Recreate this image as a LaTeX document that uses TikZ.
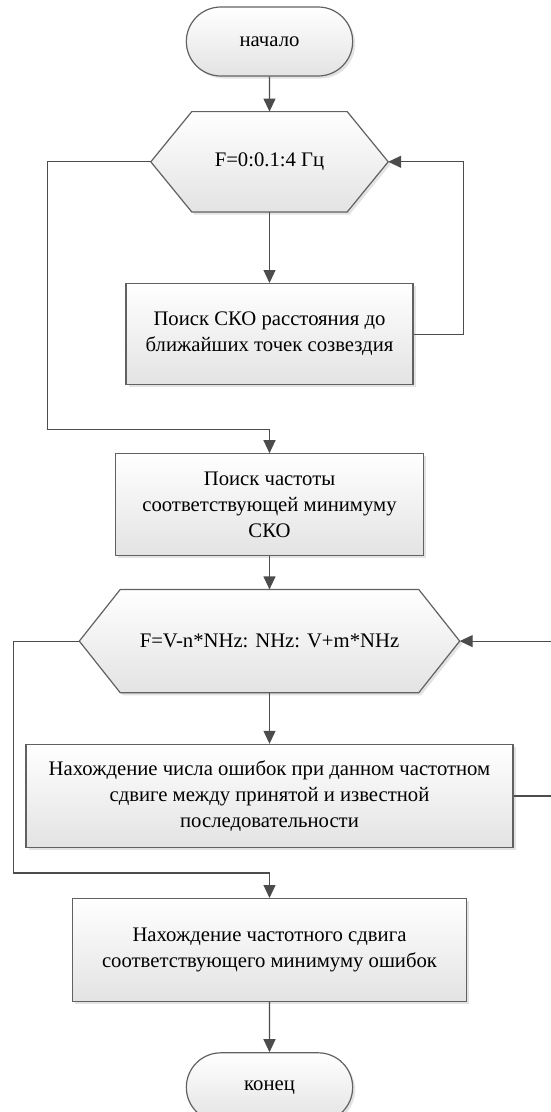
\documentclass[tikz,border=0pt]{standalone}
\usepackage{fontspec}
\setmainfont{Liberation Serif}
\usetikzlibrary{positioning,shapes.misc,shadows,arrows.meta,backgrounds}

\begin{document}
\begin{tikzpicture}[x=1pt,y=-1pt,
  font=\fontsize{20.7}{26}\selectfont,
  shade box/.style={draw=black!62, line width=1.2pt, top color=white, bottom color=black!11,
    drop shadow={opacity=0.22, shadow xshift=2.5pt, shadow yshift=-2.5pt}},
  term/.style={shade box, rounded rectangle, minimum width=173pt, minimum height=69pt},
  proc/.style={shade box, rectangle, align=center, inner sep=0pt},
  loopbox/.style={rectangle, align=center, inner sep=0pt},
  flow/.style={draw=black!70, line width=1.2pt, -{Triangle[length=13pt,width=12pt]}}]

  \useasboundingbox (0,0) rectangle (550,1112);

  \node[term] (start) at (269.5,41.5) {начало};
  \node[loopbox, minimum width=237pt, minimum height=100pt, below=35pt of start] (for1) {F=0:0.1:4 Гц};
  \node[proc, minimum width=287pt, minimum height=101pt, below=71pt of for1] (search) {Поиск СКО расстояния до\\ближайших точек созвездия};
  \node[proc, minimum width=308pt, minimum height=102pt, below=68pt of search] (minsko) {Поиск частоты\\соответствующей минимуму\\СКО};
  \node[loopbox, minimum width=380pt, minimum height=103pt, below=33pt of minsko] (for2) {F=V-n*NHz: NHz: V+m*NHz};
  \node[proc, minimum width=487pt, minimum height=103pt, below=51pt of for2] (errors) {Нахождение числа ошибок при данном частотном\\сдвиге между принятой и известной\\последовательности};
  \node[proc, minimum width=394pt, minimum height=103pt, below=50pt of errors] (shift) {Нахождение частотного сдвига\\соответствующего минимуму ошибок};
  \node[term, below=50pt of shift] (stop) {конец};

  \begin{scope}[on background layer]
    \foreach \h in {for1,for2}
      \path[shade box] (\h.west) -- ([xshift=41pt]\h.north west) -- ([xshift=-41pt]\h.north east)
        -- (\h.east) -- ([xshift=-41pt]\h.south east) -- ([xshift=41pt]\h.south west) -- cycle;
  \end{scope}

  \draw[flow] (start) -- (for1);
  \draw[flow] (for1) -- (search);
  \draw[flow] (search.east) -- ++(50pt,0) |- (for1.east);
  \draw[flow] (for1.west) -- ++(-103pt,0) |- ([yshift=24pt]minsko.north) -- (minsko.north);
  \draw[flow] (minsko) -- (for2);
  \draw[flow] (for2) -- (errors);
  \draw[flow] (errors.east) -- ++(50pt,0) |- (for2.east);
  \draw[flow] (for2.west) -- ++(-66pt,0) |- ([yshift=25pt]shift.north) -- (shift.north);
  \draw[flow] (shift) -- (stop);
\end{tikzpicture}
\end{document}
